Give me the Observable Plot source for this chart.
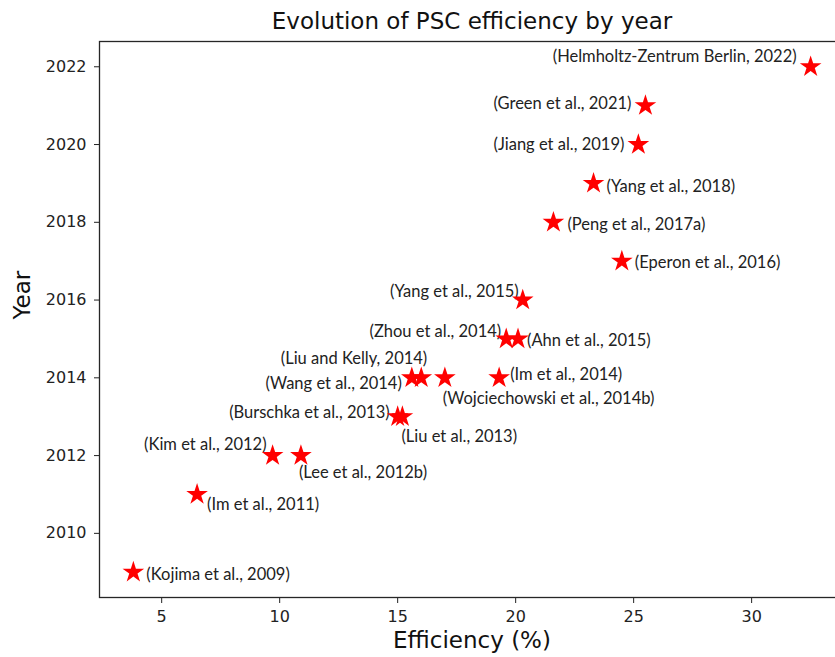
<!DOCTYPE html>
<html><head><meta charset="utf-8">
<script src="https://cdn.jsdelivr.net/npm/d3@7"></script>
<script src="https://cdn.jsdelivr.net/npm/@observablehq/plot@0.6"></script>
<style>
body{margin:0;background:#fff}
#chart{width:835px;height:657px;overflow:hidden}
#chart svg{max-width:none !important;}
</style>
</head><body><div id="chart"></div>
<script>
const labels = [
  "(Kojima et al., 2009)",
  "(Im et al., 2011)",
  "(Kim et al., 2012)",
  "(Lee et al., 2012b)",
  "(Burschka et al., 2013)",
  "(Liu et al., 2013)",
  "(Wang et al., 2014)",
  "(Liu and Kelly, 2014)",
  "(Wojciechowski et al., 2014b)",
  "(Im et al., 2014)",
  "(Zhou et al., 2014)",
  "(Ahn et al., 2015)",
  "(Yang et al., 2015)",
  "(Eperon et al., 2016)",
  "(Peng et al., 2017a)",
  "(Yang et al., 2018)",
  "(Jiang et al., 2019)",
  "(Green et al., 2021)",
  "(Helmholtz-Zentrum Berlin, 2022)"
];
const efficiency = [3.8, 6.5, 9.7, 10.9, 15.0, 15.2, 15.6, 16.0, 17.0, 19.3, 19.6, 20.1, 20.3, 24.5, 21.6, 23.3, 25.2, 25.5, 32.5];
const years = [2009, 2011, 2012, 2012, 2013, 2013, 2014, 2014, 2014, 2014, 2015, 2015, 2016, 2017, 2018, 2019, 2020, 2021, 2022];
const xTicks = [5, 10, 15, 20, 25, 30];
const yTicks = [2010, 2012, 2014, 2016, 2018, 2020, 2022];
const titleText = "Evolution of PSC efficiency by year";
const xLabel = "Efficiency (%)";
const yLabel = "Year";

// annotation offsets (layout only): [dx, dy, textAnchor]
const placement = {
  "(Kojima et al., 2009)": [13, 2, "start"],
  "(Im et al., 2011)": [10, 10, "start"],
  "(Kim et al., 2012)": [-6, -11, "end"],
  "(Lee et al., 2012b)": [-2, 17, "start"],
  "(Burschka et al., 2013)": [-8, -4, "end"],
  "(Liu et al., 2013)": [-1, 20, "start"],
  "(Wang et al., 2014)": [-10, 6, "end"],
  "(Liu and Kelly, 2014)": [6, -19, "end"],
  "(Wojciechowski et al., 2014b)": [-2, 21, "start"],
  "(Im et al., 2014)": [11, -3, "start"],
  "(Zhou et al., 2014)": [-5, -7, "end"],
  "(Ahn et al., 2015)": [9, 2, "start"],
  "(Yang et al., 2015)": [-4, -8, "end"],
  "(Eperon et al., 2016)": [13, 2, "start"],
  "(Peng et al., 2017a)": [14, 2, "start"],
  "(Yang et al., 2018)": [13, 3, "start"],
  "(Jiang et al., 2019)": [-14, 0, "end"],
  "(Green et al., 2021)": [-14, -2, "end"],
  "(Helmholtz-Zentrum Berlin, 2022)": [-14, -10, "end"]
};

const data = labels.map((label, i) => ({label, eff: efficiency[i], year: years[i]}));

const annotations = data.map(d => {
  const [dx, dy, anchor] = placement[d.label];
  return Plot.text([d], {
    x: "eff", y: "year", text: "label",
    dx, dy, textAnchor: anchor,
    fontFamily: "Lato", fontSize: 16.5, fill: "#222"
  });
});

const chart = Plot.plot({
  width: 845,
  height: 657,
  marginLeft: 99,
  marginRight: 1,
  marginTop: 41,
  marginBottom: 60,
  style: {fontFamily: "DejaVu Sans", fontSize: "16px", color: "#222", background: "#fff", maxWidth: "none"},
  x: {domain: [2.365, 33.935]},
  y: {domain: [2008.35, 2022.65]},
  marks: [
    Plot.axisX({ticks: xTicks, tickSize: 6, tickPadding: 7, label: null, fontSize: 16}),
    Plot.axisY({ticks: yTicks, tickSize: 5, tickPadding: 8, tickFormat: "d", label: null, fontSize: 16}),
    Plot.frame({stroke: "#262626", strokeWidth: 1.3}),
    ...annotations,
    Plot.dot(data, {x: "eff", y: "year", symbol: "star", r: 6.8, fill: "red", stroke: "none"}),
    Plot.text([titleText], {frameAnchor: "top", lineAnchor: "middle", dy: -20, fontSize: 23, fill: "#111"}),
    Plot.text([xLabel], {frameAnchor: "bottom", lineAnchor: "middle", dy: 43, fontSize: 23, fill: "#111"}),
    Plot.text([yLabel], {frameAnchor: "left", lineAnchor: "middle", dx: -77, rotate: -90, fontSize: 23, fill: "#111"})
  ]
});
document.getElementById("chart").appendChild(chart);
</script>
</body></html>
